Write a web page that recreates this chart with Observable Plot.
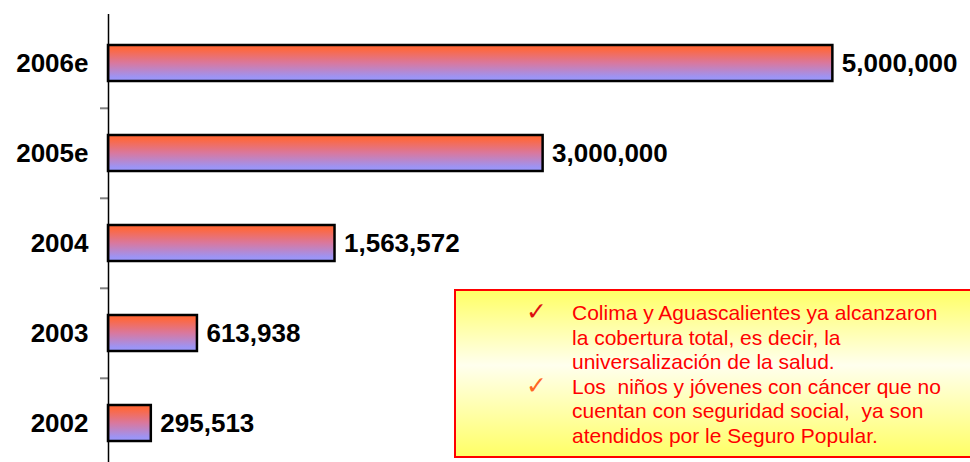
<!DOCTYPE html>
<html>
<head>
<meta charset="utf-8">
<script src="https://cdn.jsdelivr.net/npm/d3@7"></script>
<script src="https://cdn.jsdelivr.net/npm/@observablehq/plot@0.6"></script>
<style>
  html, body { margin: 0; padding: 0; background: #fff; }
  #wrap { position: relative; width: 970px; height: 462px; overflow: hidden; }
  #note {
    position: absolute; left: 454px; top: 289px; width: 520px; height: 155px;
    padding-top: 10px;
    border: 2.5px solid #ff0000;
    background: linear-gradient(to bottom, #ffff66 0%, #ffffee 45%, #ffff66 100%);
    font-family: "Liberation Sans", Arial, sans-serif; font-size: 21px; color: #ff0000;
    box-sizing: content-box;
  }
  .item { position: relative; padding-left: 116px; }
  .line { white-space: pre; line-height: 24.6px; height: 24.6px; }
  .check { position: absolute; left: 70px; top: -1px; line-height: 24.6px; font-family: "DejaVu Sans", sans-serif; font-size: 25px; }
</style>
</head>
<body>
<div id="wrap"></div>
<script>
const categories = ["2006e", "2005e", "2004", "2003", "2002"];
const values = [5000000, 3000000, 1563572, 613938, 295513];
const noteItems = [
  ["Colima y Aguascalientes ya alcanzaron", "la cobertura total, es decir, la", "universalización de la salud."],
  ["Los  niños y jóvenes con cáncer que no", "cuentan con seguridad social,  ya son", "atendidos por le Seguro Popular."]
];
const checkColors = ["#dd1111", "#ff6622"];

const data = categories.map((c, i) => ({cat: c, value: values[i]}));
const fmt = d3.format(",");
const font = "'Liberation Sans', Arial, sans-serif";

const chart = Plot.plot({
  width: 970,
  height: 462,
  marginLeft: 108,
  marginRight: 0,
  marginTop: 14,
  marginBottom: 0,
  style: {fontFamily: font, background: "white"},
  x: {domain: [0, 5950000], axis: null},
  y: {domain: categories, range: [17, 469], paddingInner: 0.6, paddingOuter: 0.3, axis: null},
  marks: [
    Plot.axisY({ticks: categories.slice(1), tickSize: 8, tickFormat: () => "", dy: -45.2, stroke: "#808080", strokeWidth: 2, label: null}),
    Plot.barX(data, {x: "value", y: "cat", fill: "url(#barGrad)", stroke: "black", strokeWidth: 2.5}),
    Plot.ruleX([0], {stroke: "black", strokeWidth: 1.5}),
    Plot.text(data, {x: 0, y: "cat", text: "cat", textAnchor: "end", dx: -20, fontWeight: "bold", fontSize: 26, fill: "black"}),
    Plot.text(data, {x: "value", y: "cat", text: d => fmt(d.value), textAnchor: "start", dx: 9, fontWeight: "bold", fontSize: 26, fill: "black"})
  ]
});

const ns = "http://www.w3.org/2000/svg";
const defs = document.createElementNS(ns, "defs");
const grad = document.createElementNS(ns, "linearGradient");
grad.setAttribute("id", "barGrad");
grad.setAttribute("x1", "0"); grad.setAttribute("y1", "0");
grad.setAttribute("x2", "0"); grad.setAttribute("y2", "1");
[["0", "#ff6633"], ["0.12", "#fd6840"], ["0.5", "#d9789e"], ["0.88", "#9e93f2"], ["1", "#9999ff"]].forEach(([o, c]) => {
  const s = document.createElementNS(ns, "stop");
  s.setAttribute("offset", o); s.setAttribute("stop-color", c);
  grad.appendChild(s);
});
defs.appendChild(grad);
chart.insertBefore(defs, chart.firstChild);

const wrap = document.getElementById("wrap");
wrap.appendChild(chart);

const note = document.createElement("div");
note.id = "note";
noteItems.forEach((lines, i) => {
  const item = document.createElement("div");
  item.className = "item";
  const chk = document.createElement("span");
  chk.className = "check";
  chk.style.color = checkColors[i];
  chk.textContent = "✓";
  item.appendChild(chk);
  lines.forEach(t => {
    const l = document.createElement("div");
    l.className = "line";
    l.textContent = t;
    item.appendChild(l);
  });
  note.appendChild(item);
});
wrap.appendChild(note);
</script>
</body>
</html>
